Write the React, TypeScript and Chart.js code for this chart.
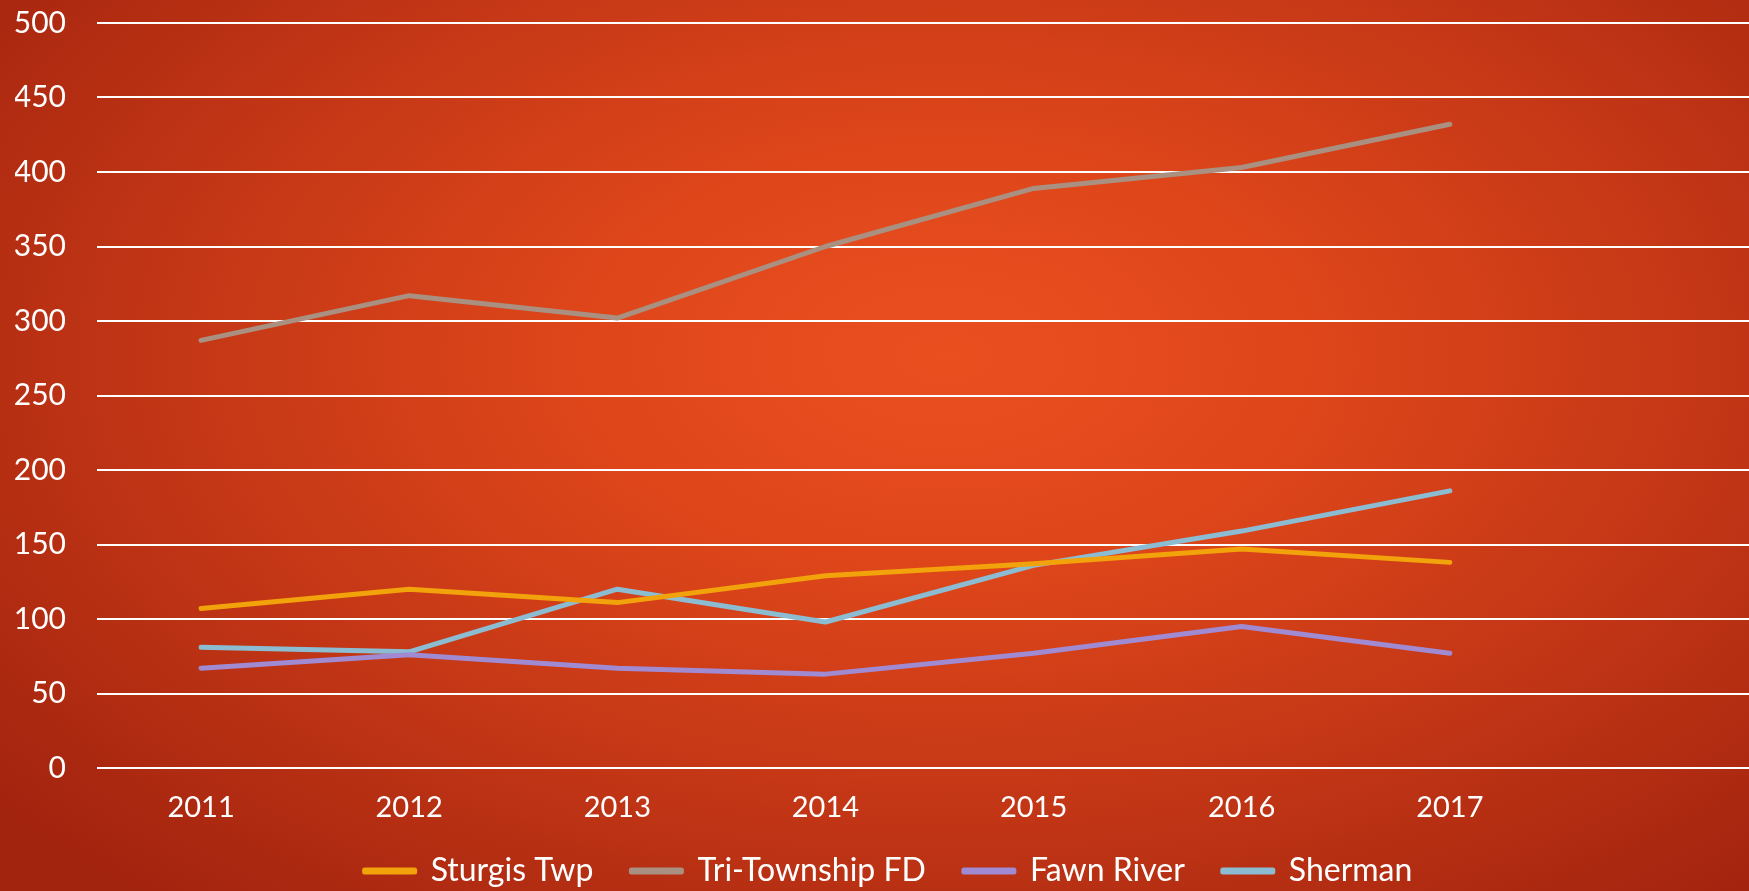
import React, { useEffect, useRef } from "react";
import { Chart, registerables } from "chart.js";

Chart.register(...registerables);

const categories = ["2011", "2012", "2013", "2014", "2015", "2016", "2017", ""];
const sturgisTwp = [107, 120, 111, 129, 137, 147, 138];
const triTownship = [287, 317, 302, 350, 389, 403, 432];
const fawnRiver = [67, 76, 67, 63, 77, 95, 77];
const sherman = [81, 78, 120, 98, 136, 159, 186];
const yTicks = [0, 50, 100, 150, 200, 250, 300, 350, 400, 450, 500];

const FONT = "Lato, 'Open Sans', sans-serif";

const legendShift = {
  id: "legendShift",
  afterLayout(chart: any) {
    const s = 8;
    if (chart.legend) {
      chart.legend.top -= s;
      chart.legend.bottom -= s;
    }
  },
};

export default function App() {
  const ref = useRef<HTMLCanvasElement | null>(null);
  useEffect(() => {
    if (!ref.current) return;
    const mk = (label: string, data: number[], color: string) => ({
      label,
      data,
      borderColor: color,
      backgroundColor: color,
      borderWidth: 5,
      borderCapStyle: "round" as const,
      borderJoinStyle: "round" as const,
      pointRadius: 0,
      tension: 0,
    });
    const chart = new Chart(ref.current, {
      type: "line",
      data: {
        labels: categories,
        datasets: [
          mk("Sturgis Twp", sturgisTwp, "#F2A20A"),
          mk("Tri-Township FD", triTownship, "#A99080"),
          mk("Fawn River", fawnRiver, "#A08AD2"),
          mk("Sherman", sherman, "#8BBCD2"),
        ],
      },
      plugins: [legendShift],
      options: {
        responsive: false,
        animation: false,
        layout: { padding: { top: 23, left: 15, right: 0, bottom: -14 } },
        plugins: {
          tooltip: { enabled: false },
          legend: {
            position: "bottom",
            labels: {
              color: "#ffffff",
              font: { family: FONT, size: 32 },
              boxWidth: 50,
              boxHeight: 2,
              padding: 38,
            },
          },
        },
        scales: {
          x: {
            offset: true,
            afterFit: (axis: any) => {
              axis.height = 57;
            },
            grid: { display: false, drawTicks: false },
            border: { display: false },
            ticks: { color: "#ffffff", font: { family: FONT, size: 29 }, padding: 22, maxRotation: 0 },
          },
          y: {
            min: 0,
            max: 500,
            afterBuildTicks: (axis: any) => {
              axis.ticks = yTicks.map((v) => ({ value: v }));
            },
            afterFit: (axis: any) => {
              axis.paddingTop = 0;
              axis.paddingBottom = 0;
              axis.width = 82;
            },
            grid: { color: "#ffffff", lineWidth: 2, drawTicks: false },
            border: { display: false },
            ticks: { color: "#ffffff", font: { family: FONT, size: 30 }, padding: 31 },
          },
        },
      },
    });
    return () => chart.destroy();
  }, []);
  return (
    <div
      style={{
        position: "fixed",
        left: 0,
        top: 0,
        width: 1749,
        height: 891,
        overflow: "hidden",
        background:
          "radial-gradient(ellipse 70% 80% at 54% 40%, #EA4F20 0%, #DE461A 30%, #C43716 62%, #A2230E 100%)",
      }}
    >
      <canvas ref={ref} width={1762} height={891} style={{ display: "block" }} />
    </div>
  );
}
